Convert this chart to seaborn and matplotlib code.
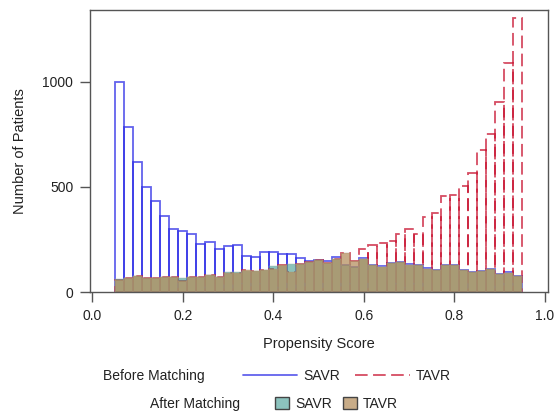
import numpy as np
import pandas as pd
import matplotlib
matplotlib.use("Agg")
import matplotlib.pyplot as plt
import seaborn as sns
from matplotlib.lines import Line2D
from matplotlib.patches import Patch

# ---------------------------
# data: counts per propensity-score bin (width 0.02, 0.05 .. 0.95)
bin_edges = [round(0.05 + 0.02 * i, 3) for i in range(46)]
bin_mid = [round(0.06 + 0.02 * i, 3) for i in range(45)]

savr_before = [1000, 784, 619, 499, 433, 361, 301, 288, 276, 229,
               238, 206, 217, 225, 173, 167, 192, 189, 181, 181,
               162, 146, 150, 145, 167, 128, 120, 160, 128, 122,
               138, 144, 131, 128, 112, 106, 128, 128, 106, 96,
               101, 109, 86, 94, 78]
tavr_before = [55, 68, 76, 68, 68, 73, 73, 52, 73, 71,
               82, 71, 88, 88, 104, 101, 106, 107, 128, 96,
               134, 144, 150, 140, 158, 183, 146, 206, 221, 233,
               241, 275, 300, 277, 355, 375, 454, 461, 504, 564,
               674, 753, 902, 1087, 1304]
savr_after = [61, 68, 76, 68, 66, 70, 71, 65, 73, 69,
              82, 71, 94, 94, 100, 101, 106, 123, 124, 134,
              134, 143, 150, 140, 158, 126, 118, 158, 126, 120,
              136, 142, 129, 126, 110, 104, 126, 126, 104, 94,
              99, 107, 84, 92, 76]
tavr_after = [55, 68, 76, 68, 68, 73, 73, 52, 73, 71,
              82, 71, 88, 88, 104, 101, 106, 107, 128, 96,
              134, 144, 150, 140, 158, 183, 146, 158, 126, 120,
              136, 142, 129, 126, 110, 104, 126, 126, 104, 94,
              99, 107, 84, 92, 76]

df = pd.DataFrame({
    "ps": bin_mid,
    "savr_before": np.array(savr_before, dtype=float),
    "tavr_before": np.array(tavr_before, dtype=float),
    "savr_after": np.array(savr_after, dtype=float),
    "tavr_after": np.array(tavr_after, dtype=float),
})

# 颜色
blue = "#2E2EE6"
red = "#C8102E"
teal = "#198779"
tan = "#B48D5C"
dash = (0, (7, 3))

sns.set_theme(style="white")
plt.rcParams['font.family'] = ['Liberation Sans', 'DejaVu Sans']

fig = plt.figure(figsize=(5.58, 4.13), dpi=100)
ax = fig.add_axes([90 / 558, 1 - 292 / 413, 458 / 558, 282 / 413])

# before matching (outlines)
sns.histplot(data=df, x="ps", weights="savr_before", bins=bin_edges,
             element="bars", fill=False, color=blue, alpha=0.75,
             linewidth=1.3, ax=ax)
sns.histplot(data=df, x="ps", weights="tavr_before", bins=bin_edges,
             element="bars", fill=False, color=red, alpha=0.75,
             linewidth=1.3, linestyle=dash, ax=ax)

# after matching (filled, transparent) - drawn over the outlines
sns.histplot(data=df, x="ps", weights="savr_after", bins=bin_edges,
             element="bars", fill=True, color=teal, alpha=0.5,
             edgecolor="#9fb3b0", linewidth=0.3, ax=ax)
sns.histplot(data=df, x="ps", weights="tavr_after", bins=bin_edges,
             element="bars", fill=True, color=tan, alpha=0.73,
             edgecolor="#a8977e", linewidth=0.3, ax=ax)

ax.set_xlim(-0.005, 1.0066)
ax.set_ylim(0, 1340)
ax.set_xticks([0.0, 0.2, 0.4, 0.6, 0.8, 1.0])
ax.set_xticklabels(["0.0", "0.2", "0.4", "0.6", "0.8", "1.0"])
ax.set_yticks([0, 500, 1000])
ax.tick_params(axis="both", direction="out", length=7, width=1,
               color="#555555", labelsize=10, labelcolor="#222222", pad=5)
ax.tick_params(axis="both", which="both", bottom=True, left=True)
for s in ax.spines.values():
    s.set_color("#555555")
    s.set_linewidth(1.0)
ax.set_xlabel("Propensity Score", fontsize=10.5, color="#222222", labelpad=10)
ax.set_ylabel("Number of Patients", fontsize=10.5, color="#222222", labelpad=11)

# ---------------------------
# legend
fig.text(103 / 558, 1 - 376 / 413, "Before Matching", fontsize=10,
         color="#222222", va="center", ha="left")
h1 = [Line2D([], [], color=blue, alpha=0.75, lw=1.3),
      Line2D([], [], color=red, alpha=0.75, lw=1.3, linestyle=dash)]
fig.legend(h1, ["SAVR", "TAVR"], ncol=2, frameon=False, fontsize=10,
           loc="center left", bbox_to_anchor=(243 / 558, 1 - 376 / 413),
           borderpad=0, borderaxespad=0, handlelength=3.9, handletextpad=0.45,
           columnspacing=1.1, labelcolor="#222222")

fig.text(150 / 558, 1 - 404 / 413, "After Matching", fontsize=10,
         color="#222222", va="center", ha="left")
h2 = [Patch(facecolor="#8CC3BE", edgecolor="#444444", lw=1.0),
      Patch(facecolor="#C8AC88", edgecolor="#444444", lw=1.0)]
fig.legend(h2, ["SAVR", "TAVR"], ncol=2, frameon=False, fontsize=10,
           loc="center left", bbox_to_anchor=(275 / 558, 1 - 404 / 413),
           borderpad=0, borderaxespad=0, handlelength=1.0, handleheight=1.0,
           handletextpad=0.45, columnspacing=0.8, labelcolor="#222222")

fig.savefig("out.png", dpi=100)
